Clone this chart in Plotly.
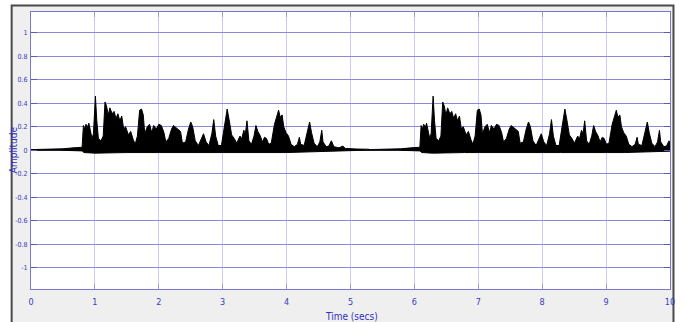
import plotly.graph_objects as go

# ---- data ----
# Upper envelope of one utterance (time in s relative to recording start, amplitude)
UTT_T = [0.00, 0.45, 0.50, 0.66, 0.80, 0.82, 0.84, 0.86, 0.89, 0.905, 0.93, 0.955, 0.977, 0.997, 1.008,
         1.03, 1.055, 1.095, 1.13, 1.158, 1.18, 1.21, 1.235, 1.27, 1.30, 1.33, 1.36, 1.39, 1.42, 1.45,
         1.48, 1.525, 1.56, 1.60, 1.63, 1.665, 1.70, 1.73, 1.757, 1.78, 1.82, 1.855, 1.89, 1.92, 1.96,
         2.00, 2.04, 2.08, 2.11, 2.155, 2.20, 2.23, 2.28, 2.34, 2.37, 2.42, 2.465, 2.50, 2.53, 2.57,
         2.62, 2.67, 2.70, 2.74, 2.785, 2.83, 2.86, 2.89, 2.93, 2.98, 3.03, 3.07, 3.10, 3.14, 3.18,
         3.22, 3.27, 3.30, 3.33, 3.355, 3.38, 3.41, 3.45, 3.49, 3.52, 3.55, 3.59, 3.62, 3.655, 3.685,
         3.72, 3.76, 3.81, 3.85, 3.875, 3.90, 3.93, 3.955, 3.99, 4.03, 4.07, 4.12, 4.17, 4.20, 4.22,
         4.275, 4.325, 4.36, 4.39, 4.43, 4.48, 4.52, 4.55, 4.57, 4.62, 4.66, 4.70, 4.74, 4.82, 4.88,
         4.92, 5.00, 5.10, 5.29]
UTT_UPPER = [0.005, 0.006, 0.012, 0.020, 0.025, 0.21, 0.18, 0.22, 0.20, 0.23, 0.17, 0.10, 0.14, 0.44, 0.46,
             0.25, 0.10, 0.08, 0.12, 0.41, 0.38, 0.30, 0.36, 0.31, 0.33, 0.27, 0.31, 0.25, 0.29, 0.18,
             0.20, 0.13, 0.16, 0.09, 0.05, 0.12, 0.34, 0.35, 0.30, 0.14, 0.20, 0.22, 0.15, 0.21, 0.18,
             0.22, 0.21, 0.15, 0.07, 0.10, 0.18, 0.21, 0.19, 0.16, 0.06, 0.07, 0.18, 0.24, 0.20, 0.08,
             0.04, 0.10, 0.14, 0.07, 0.04, 0.14, 0.26, 0.12, 0.04, 0.04, 0.20, 0.35, 0.26, 0.13, 0.10,
             0.06, 0.12, 0.10, 0.17, 0.14, 0.25, 0.08, 0.05, 0.12, 0.21, 0.16, 0.12, 0.07, 0.11, 0.10,
             0.05, 0.06, 0.22, 0.31, 0.34, 0.28, 0.30, 0.20, 0.15, 0.12, 0.05, 0.03, 0.05, 0.11, 0.05,
             0.04, 0.15, 0.24, 0.15, 0.06, 0.03, 0.07, 0.17, 0.07, 0.03, 0.035, 0.08, 0.03, 0.02, 0.035,
             0.015, 0.012, 0.010, 0.008]
# Lower envelope of one utterance
UTT_LOW_T = [0.00, 0.45, 0.80, 0.83, 1.00, 1.50, 2.00, 3.00, 4.00, 4.50, 4.90, 5.10, 5.29]
UTT_LOWER = [0.000, 0.000, -0.006, -0.020, -0.025, -0.020, -0.018, -0.020, -0.020, -0.014, -0.006, -0.002, 0.000]
# The same utterance appears twice in the recording
UTT_STARTS = [0.0, 5.285]

X_TICKS = [0, 1, 2, 3, 4, 5, 6, 7, 8, 9, 10]
Y_TICKS = [1, 0.8, 0.6, 0.4, 0.2, 0, -0.2, -0.4, -0.6, -0.8, -1]
Y_LABELS = ["1", "0.8", "0.6", "0.4", "0.2", "0", "-0.2", "-0.4", "-0.6", "-0.8", "-1"]

FONT = "Liberation Sans Narrow, DejaVu Sans Condensed, Arial Narrow, Liberation Sans, sans-serif"
BLUE_TXT = "#3a3ac0"

fig = go.Figure()
for s in UTT_STARTS:
    xs = [s + t for t in UTT_T] + [s + t for t in reversed(UTT_LOW_T)]
    ys = list(UTT_UPPER) + list(reversed(UTT_LOWER))
    fig.add_trace(go.Scatter(x=xs, y=ys, mode="lines", fill="toself",
                             fillcolor="black", line=dict(color="black", width=1),
                             hoverinfo="skip", showlegend=False))

# plot-area pixel geometry: left 31, right 675, top 12, bottom 289
W, H = 686, 322
L, R, T, B = 31, 675, 12, 289
pw, ph = R - L, B - T
def px(x):
    return (x - L) / pw
def py(y):
    return (B - y) / ph

shapes = [
    dict(type="rect", xref="paper", yref="paper", x0=px(11.5), x1=px(678.5), y0=py(340), y1=py(5.5),
         fillcolor="#efefef", line=dict(color="#4a4a4a", width=2), layer="below"),
    dict(type="rect", xref="paper", yref="paper", x0=0, x1=1, y0=0, y1=1,
         fillcolor="white", line=dict(width=0), layer="below"),
]

fig.update_layout(
    width=W, height=H,
    margin=dict(l=L, r=W - R, t=T, b=H - B, pad=0),
    paper_bgcolor="white", plot_bgcolor="white",
    shapes=shapes,
    font=dict(family=FONT, color=BLUE_TXT, size=9),
    xaxis=dict(range=[0, 10], tickvals=X_TICKS, ticktext=[str(v) for v in X_TICKS],
               showgrid=True, gridcolor="#cacaf2", gridwidth=1,
               showline=True, linecolor="#7878cc", linewidth=1, mirror="ticks",
               ticks="inside", ticklen=5, tickcolor="#9a9ad8",
               tickfont=dict(family=FONT, size=9, color=BLUE_TXT), ticklabelstandoff=4,
               zeroline=False, fixedrange=True),
    yaxis=dict(range=[-1.18, 1.175], tickvals=Y_TICKS, ticktext=Y_LABELS,
               showgrid=True, gridcolor="#8a8ad6", gridwidth=1,
               showline=True, linecolor="#7878cc", linewidth=1, mirror="ticks",
               ticks="inside", ticklen=6, tickcolor="#5a5ab8",
               tickfont=dict(family=FONT, size=7, color=BLUE_TXT), ticklabelstandoff=1,
               zeroline=False, fixedrange=True),
    annotations=[
        dict(text="Amplitude", xref="paper", yref="paper", x=px(13), y=py(150),
             textangle=-90, showarrow=False, xanchor="center", yanchor="middle",
             font=dict(family=FONT, size=10, color="#3030c0")),
        dict(text="Time (secs)", xref="paper", yref="paper", x=px(354), y=py(316),
             showarrow=False, xanchor="center", yanchor="middle",
             font=dict(family=FONT, size=10, color="#3030c0")),
    ],
)

fig.write_html("out.html")
